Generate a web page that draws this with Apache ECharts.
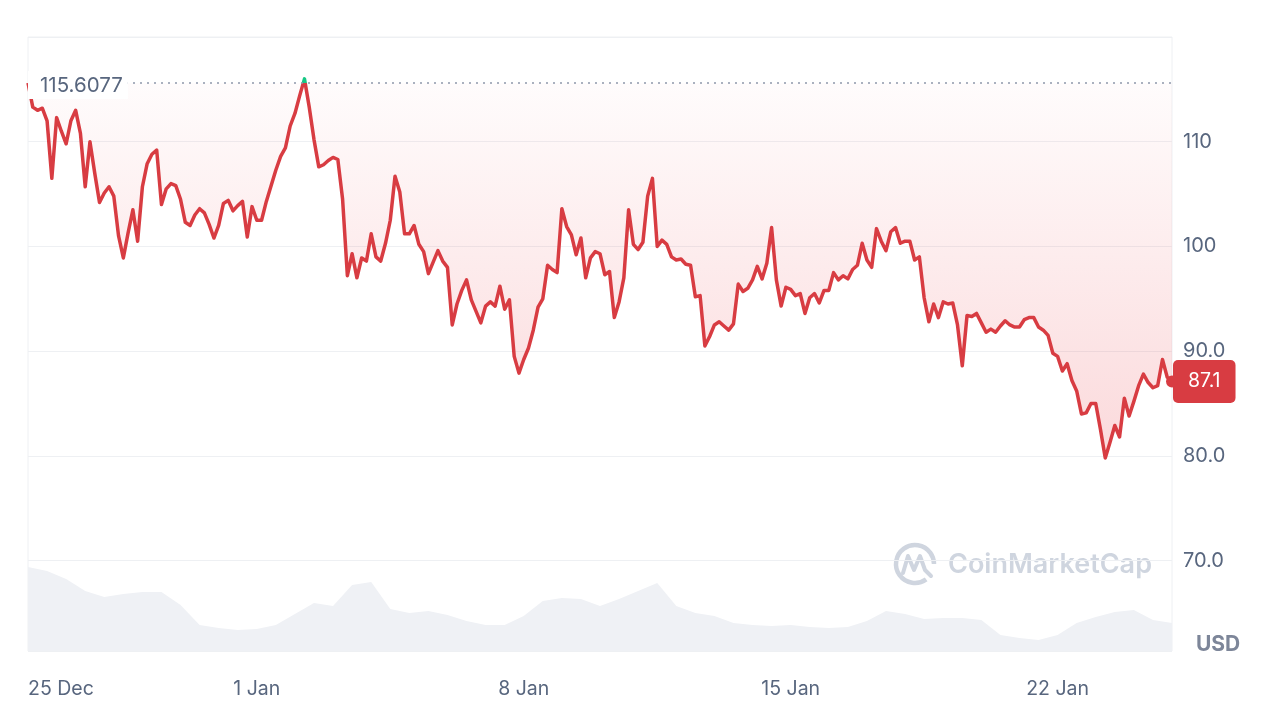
<!DOCTYPE html>
<html><head><meta charset="utf-8">
<script src="https://cdn.jsdelivr.net/npm/echarts@6/dist/echarts.min.js"></script>
<style>html,body{margin:0;padding:0;background:#fff;}#chart{width:1280px;height:718px;}</style>
</head><body><div id="chart"></div>
<script>
// Price (USD), one reading every 3 hours over 30 days
const prices = [
115.6077, 113.3, 113.0, 113.2, 112.0, 106.5, 112.3, 111.0, 109.8, 112.0,
113.0, 110.8, 105.7, 110.0, 107.0, 104.2, 105.1, 105.7, 104.8, 101.0,
98.9, 101.3, 103.5, 100.5, 105.7, 107.9, 108.8, 109.2, 104.0, 105.5,
106.0, 105.8, 104.5, 102.3, 102.0, 103.0, 103.6, 103.2, 102.1, 100.8,
102.0, 104.1, 104.4, 103.4, 103.9, 104.3, 100.9, 103.8, 102.5, 102.5,
104.3, 105.8, 107.3, 108.6, 109.4, 111.5, 112.7, 114.4, 116.0, 113.3,
110.2, 107.6, 107.8, 108.2, 108.5, 108.3, 104.5, 97.2, 99.3, 97.0,
98.9, 98.6, 101.2, 99.0, 98.6, 100.3, 102.5, 106.7, 105.2, 101.2,
101.2, 102.0, 100.2, 99.5, 97.4, 98.5, 99.6, 98.6, 98.0, 92.5,
94.5, 95.8, 96.8, 94.9, 93.8, 92.7, 94.3, 94.7, 94.3, 96.2,
94.0, 94.9, 89.5, 87.9, 89.2, 90.3, 92.0, 94.2, 95.0, 98.2,
97.8, 97.5, 103.6, 101.9, 101.1, 99.2, 100.8, 97.0, 98.9, 99.5,
99.3, 97.3, 97.6, 93.2, 94.7, 97.0, 103.5, 100.2, 99.7, 100.4,
104.8, 106.5, 100.0, 100.6, 100.2, 99.0, 98.7, 98.8, 98.3, 98.2,
95.2, 95.3, 90.5, 91.4, 92.5, 92.8, 92.4, 92.0, 92.6, 96.4,
95.7, 96.0, 96.8, 98.1, 96.9, 98.4, 101.8, 96.8, 94.3, 96.1,
95.9, 95.3, 95.5, 93.6, 95.1, 95.5, 94.6, 95.8, 95.8, 97.5,
96.8, 97.2, 96.9, 97.8, 98.2, 100.3, 98.7, 98.0, 101.7, 100.5,
99.6, 101.4, 101.8, 100.3, 100.5, 100.5, 98.7, 99.0, 95.1, 92.8,
94.5, 93.2, 94.7, 94.5, 94.6, 92.5, 88.6, 93.4, 93.3, 93.6,
92.7, 91.8, 92.1, 91.8, 92.4, 92.9, 92.5, 92.3, 92.3, 93.0,
93.2, 93.2, 92.3, 92.0, 91.5, 89.8, 89.5, 88.1, 88.8, 87.2,
86.2, 84.0, 84.1, 85.0, 85.0, 82.5, 79.8, 81.3, 82.9, 81.8,
85.5, 83.8, 85.2, 86.7, 87.8, 87.0, 86.5, 86.7, 89.2, 87.5,
87.1
];
// Relative volume, one reading every 12 hours
const volumes = [
84, 80, 72, 60, 54, 57, 59, 59, 46, 26,
23, 21, 22, 26, 37, 48, 45, 66, 69, 42,
38, 40, 36, 30, 26, 26, 35, 50, 53, 52,
45, 52, 60, 68, 45, 38, 35, 28, 26, 25,
26, 24, 23, 24, 30, 40, 37, 32, 33, 33,
31, 16, 13, 11, 16, 28, 34, 39, 41, 31,
28
];
const baseline = 115.6077;
const xTickIndex = [0, 48, 104, 160, 216];
const xTickLabels = ['25 Dec', '1 Jan', '8 Jan', '15 Jan', '22 Jan'];
const yTickValues = [70, 80, 90, 100, 110];
const yTickLabels = ['70.0', '80.0', '90.0', '100', '110'];
const yMin = 61.36, yMax = 120;
const currency = 'USD';
const brand = 'CoinMarketCap';

const priceCats = prices.map((_, i) => i);
const volCats = volumes.map((_, i) => i);

const FONT = 'Inter, "Noto Sans", sans-serif';
const grey = '#58667e';
const red = '#d83c42';
const green = '#16c784';
const gridLine = '#eef0f3';
const wm = '#cfd5df';

const chart = echarts.init(document.getElementById('chart'), null, {renderer: 'canvas'});
chart.setOption({
  animation: false,
  backgroundColor: '#fff',
  textStyle: {fontFamily: FONT},
  title: {text: currency, left: 1191, top: 629,
    textStyle: {fontSize: 21, fontWeight: 'bold', color: '#7d8699', fontFamily: FONT}},
  graphic: [
    {type: 'arc', z: 0, silent: true,
      shape: {cx: 915, cy: 564, r: 19, startAngle: Math.PI * 0.3, endAngle: Math.PI * 2},
      style: {stroke: wm, lineWidth: 4.5, fill: null}},
    {type: 'polyline', z: 0, silent: true,
      shape: {points: [[903, 573], [908, 556], [914, 570], [920, 556], [925, 570], [931, 576]]},
      style: {stroke: wm, lineWidth: 4, fill: null, lineJoin: 'round', lineCap: 'round'}},
    {type: 'text', z: 0, silent: true, x: 948, y: 551,
      style: {text: brand, fontSize: 27, fontWeight: 600, fill: wm, fontFamily: FONT}}
  ],
  grid: [
    {left: 28, right: 108, top: 37, bottom: 67, show: true, borderColor: gridLine, borderWidth: 1},
    {left: 28, right: 108, top: 551, bottom: 67}
  ],
  xAxis: [
    {type: 'category', gridIndex: 0, data: priceCats, boundaryGap: false,
      axisLine: {show: false}, axisTick: {show: false}, splitLine: {show: false},
      axisLabel: {
        interval: (i) => xTickIndex.includes(i),
        formatter: (v, i) => { const k = xTickIndex.indexOf(i); return k >= 0 ? xTickLabels[k] : ''; },
        color: grey, fontSize: 19.5, margin: 28, alignMinLabel: 'left', fontFamily: FONT
      }},
    {type: 'category', gridIndex: 1, data: volCats, boundaryGap: false, show: false}
  ],
  yAxis: [
    {type: 'value', gridIndex: 0, position: 'right', min: yMin, max: yMax, scale: true,
      axisLine: {show: false}, axisTick: {show: false},
      splitLine: {lineStyle: {color: gridLine, width: 1}},
      axisLabel: {
        formatter: (v) => { const k = yTickValues.findIndex(t => Math.abs(t - v) < 1e-6); return k >= 0 ? yTickLabels[k] : ''; },
        color: grey, fontSize: 20, margin: 11, fontFamily: FONT
      }},
    {type: 'value', gridIndex: 1, min: 0, max: 100, show: false}
  ],
  series: [
    {type: 'line', xAxisIndex: 1, yAxisIndex: 1, data: volumes, showSymbol: false, silent: true,
      lineStyle: {width: 0}, areaStyle: {color: '#eff1f5', opacity: 1}, z: 1},
    {type: 'line', xAxisIndex: 0, yAxisIndex: 0, data: prices, showSymbol: false, z: 3,
      lineStyle: {width: 3.5, color: red, join: 'round'},
      areaStyle: {origin: baseline, color: {type: 'linear', x: 0, y: 0, x2: 0, y2: 1,
        colorStops: [{offset: 0, color: 'rgba(234,57,67,0.02)'}, {offset: 1, color: 'rgba(234,57,67,0.27)'}]}},
      markLine: {silent: true, symbol: ['none', 'none'],
        lineStyle: {type: [2, 5], color: '#8f98aa', width: 1.5},
        label: {position: 'insideStartBottom', distance: [0, -12], align: 'left', verticalAlign: 'top',
          formatter: String(baseline), color: grey, fontSize: 20.5, fontFamily: FONT,
          backgroundColor: '#fff', padding: [4, 5, 3, 12]},
        data: [{yAxis: baseline}]},
      markPoint: {silent: true, symbol: 'circle', symbolSize: 12, itemStyle: {color: red},
        label: {show: false},
        data: [{coord: [prices.length - 1, prices[prices.length - 1]]}]},
      endLabel: {show: true, formatter: (p) => Number(p.value).toFixed(1), color: '#fff',
        backgroundColor: red, borderRadius: 5, padding: [12, 15, 11, 15], fontSize: 19.5, distance: 1, fontFamily: FONT}
    }
  ]
});

// Colour the line green above the opening price and red below it, using the axis scale
const yTop = chart.convertToPixel({yAxisIndex: 0}, yMax);
const yBot = chart.convertToPixel({yAxisIndex: 0}, yMin);
const yBase = chart.convertToPixel({yAxisIndex: 0}, baseline);
const off = (yBase - yTop) / (yBot - yTop);
chart.setOption({series: [{}, {lineStyle: {color: new echarts.graphic.LinearGradient(0, yTop, 0, yBot, [
  {offset: 0, color: green}, {offset: off, color: green},
  {offset: off, color: red}, {offset: 1, color: red}], true)}}]});
</script></body></html>
